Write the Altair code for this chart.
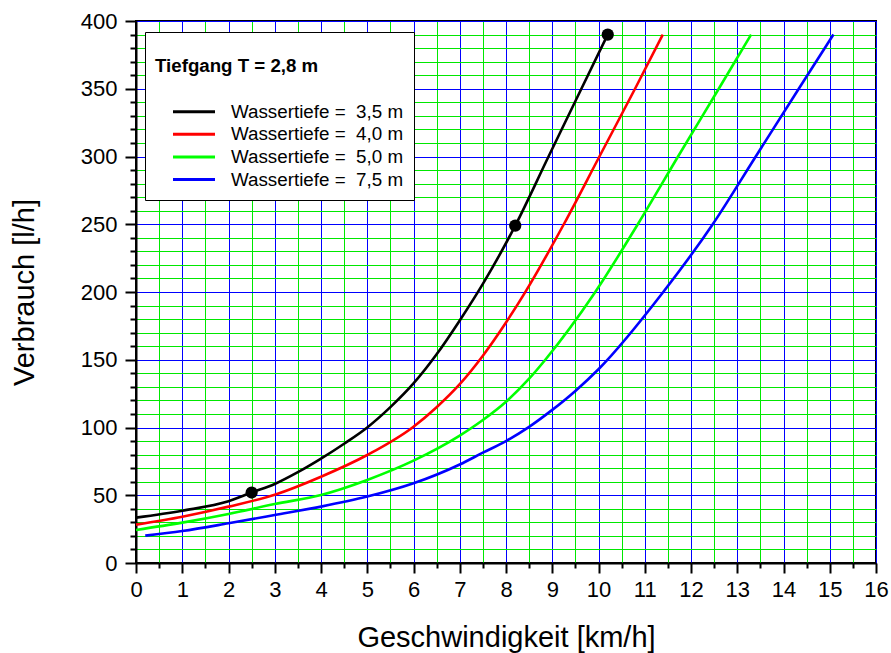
import altair as alt
import pandas as pd

# ---- data ----
labels = ["Wassertiefe = \u00a03,5 m", "Wassertiefe = \u00a04,0 m",
          "Wassertiefe = \u00a05,0 m", "Wassertiefe = \u00a07,5 m"]
colors = ["#000000", "#ff0000", "#00ff00", "#0000ff"]

v_35 = [0, 1, 2, 2.5, 3, 3.5, 4, 4.5, 5, 5.5, 6, 6.5, 7, 7.5, 8.2, 8.92, 9.63, 10.2]
q_35 = [33.5, 38.6, 45.5, 52, 58.3, 67, 77, 88, 100, 115, 132.5, 154, 179, 206, 249, 300, 350, 390]

v_40 = [0, 1, 2, 3, 4, 5, 6, 6.5, 7, 7.5, 8, 8.4, 9.25, 10.02, 10.79, 11.39]
q_40 = [28.3, 34.2, 41.6, 50.4, 63.7, 79.7, 100.6, 115, 132, 153, 177.5, 199, 250, 300, 350, 390]

v_50 = [0, 1, 2, 3, 4, 5, 6, 7, 7.5, 8, 8.5, 8.85, 9.93, 10.85, 11.72, 12.6, 13.3]
q_50 = [24.4, 29.8, 36.2, 43.5, 50.2, 61.3, 75.5, 94, 105.5, 119, 136, 150, 200, 250, 300, 350, 390]

v_75 = [0.2, 1, 2, 3, 4, 5, 6, 7, 7.5, 8, 8.5, 9, 9.5, 10, 11.4, 12.47, 13.4, 14.33, 15.08]
q_75 = [20.2, 23.6, 29.3, 35.4, 41.6, 49, 58.8, 72.7, 81.4, 90, 100.5, 113, 127, 143, 200, 250, 300, 350, 390]

mark_v = [2.5, 8.2, 10.2]
mark_q = [52, 249, 390]

series = [(labels[0], v_35, q_35), (labels[1], v_40, q_40),
          (labels[2], v_50, q_50), (labels[3], v_75, q_75)]
rows = []
for name, vs, qs in series:
    for a, b in zip(vs, qs):
        rows.append({"Wassertiefe": name, "v": a, "q": b})
df = pd.DataFrame(rows)
df_pts = pd.DataFrame({"v": mark_v, "q": mark_q})

x_ticks = [i * 0.5 for i in range(33)]
y_ticks = list(range(0, 401, 10))

FONT = "Liberation Sans"
GREEN = "#00e800"
BLUE = "#0000ff"

x_axis = alt.Axis(
    values=x_ticks,
    title="Geschwindigkeit [km/h]",
    titleFontSize=29, titleFontWeight="normal", titleColor="black", titlePadding=23,
    labelFontSize=22, labelColor="black", labelPadding=6,
    labelExpr="datum.value % 1 ? '' : '' + datum.value",
    labelFlush=False, labelOverlap=False, labelBound=False,
    grid=True, gridWidth=1,
    gridColor=alt.condition("datum.value % 1 === 0", alt.value(BLUE), alt.value(GREEN)),
    ticks=True, tickColor="black", tickWidth=2,
    tickSize=alt.condition("datum.value % 1 === 0", alt.value(10), alt.value(5)),
    domainColor="black", domainWidth=2,
)
y_axis = alt.Axis(
    values=y_ticks,
    title="Verbrauch [l/h]",
    titleFontSize=29, titleFontWeight="normal", titleColor="black", titlePadding=41,
    labelFontSize=22, labelColor="black", labelPadding=8,
    labelExpr="datum.value % 50 ? '' : '' + datum.value",
    labelFlush=False, labelOverlap=False, labelBound=False,
    grid=True, gridWidth=1,
    gridColor=alt.condition("datum.value % 50 === 0", alt.value(BLUE), alt.value(GREEN)),
    ticks=True, tickColor="black", tickWidth=2,
    tickSize=alt.condition("datum.value % 50 === 0", alt.value(11), alt.value(6)),
    domainColor="black", domainWidth=2,
)

xs = alt.Scale(domain=[0, 16], nice=False, zero=False)
ys = alt.Scale(domain=[0, 400], nice=False, zero=False)

lines = alt.Chart(df).mark_line(strokeWidth=2.6, interpolate="monotone").encode(
    x=alt.X("v:Q", scale=xs, axis=x_axis),
    y=alt.Y("q:Q", scale=ys, axis=y_axis),
    color=alt.Color(
        "Wassertiefe:N",
        scale=alt.Scale(domain=labels, range=colors),
        legend=alt.Legend(
            title="Tiefgang T = 2,8 m",
            orient="none", legendX=9, legendY=11,
            fillColor="white", strokeColor="black", padding=10,
            titleFontSize=18.7, titleFontWeight="bold", titleColor="black",
            titleBaseline="line-top", titleLineHeight=50, titlePadding=39,
            labelFontSize=18.8, labelColor="black", labelLimit=400,
            symbolType="M-2,0L2,0", symbolSize=441, symbolStrokeWidth=3,
            symbolOffset=27, labelOffset=25, rowPadding=0.6,
        ),
    ),
    detail="Wassertiefe:N",
)

points = alt.Chart(df_pts).mark_circle(size=150, color="black", opacity=1).encode(
    x=alt.X("v:Q", scale=xs, axis=x_axis),
    y=alt.Y("q:Q", scale=ys, axis=y_axis),
)

chart = (
    alt.layer(lines, points)
    .properties(width=740, height=542,
                autosize=alt.AutoSizeParams(type="none"),
                padding={"left": 136, "top": 21, "right": 15, "bottom": 90})
    .configure(font=FONT)
    .configure_view(stroke="black", strokeWidth=2)
)

chart.save("out.html", embed_options={"renderer": "svg", "actions": False})
